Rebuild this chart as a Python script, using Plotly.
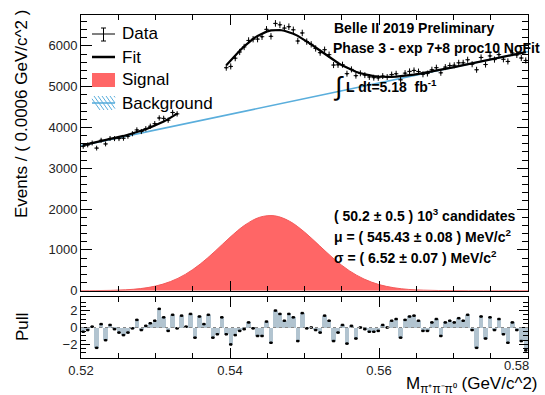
import numpy as np
import plotly.graph_objects as go

# ---------------- data ----------------
bin_lo, bin_w, n_bins = 0.52, 0.0006, 100
centers = bin_lo + bin_w * (np.arange(n_bins) + 0.5)
left_idx = list(range(0, 22))
right_idx = list(range(32, 100))

data_left = [3538, 3573, 3621, 3495, 3687, 3597, 3731, 3727, 3728, 3737, 3785,
             3847, 3941, 3901, 3971, 4031, 4094, 4233, 4223, 4179, 4368, 4334]
data_right = [5465, 5497, 5699, 5851, 5973, 6133, 6164, 6166, 6225, 6405, 6234,
              6551, 6517, 6436, 6470, 6394, 6120, 6317, 6105, 6038, 5937, 5834,
              5907, 5785, 5530, 5536, 5539, 5319, 5424, 5270, 5328, 5283, 5238,
              5221, 5216, 5260, 5237, 5297, 5317, 5168, 5332, 5375, 5398, 5371,
              5303, 5322, 5416, 5466, 5340, 5480, 5518, 5525, 5585, 5585, 5660,
              5550, 5415, 5716, 5543, 5754, 5664, 5786, 5672, 5619, 5825, 5779,
              5703, 5643]

fit_left = [3568, 3591, 3615, 3639, 3663, 3688, 3713, 3739, 3765, 3793, 3822,
            3853, 3885, 3920, 3958, 3999, 4043, 4092, 4146, 4205, 4270, 4341]
fit_right = [5524, 5647, 5767, 5882, 5988, 6086, 6172, 6245, 6304, 6349, 6378,
             6391, 6389, 6372, 6342, 6299, 6246, 6183, 6113, 6038, 5960, 5880,
             5801, 5724, 5650, 5581, 5517, 5460, 5409, 5365, 5328, 5298, 5274,
             5257, 5245, 5238, 5237, 5239, 5245, 5254, 5266, 5280, 5296, 5313,
             5332, 5351, 5372, 5393, 5414, 5436, 5459, 5481, 5504, 5526, 5549,
             5572, 5595, 5618, 5641, 5664, 5687, 5710, 5733, 5756, 5779, 5802,
             5825, 5848]

sig_x = list(np.round(np.linspace(0.52, 0.58, 31), 4))
sig_y = [1, 3, 8, 22, 52, 113, 223, 400, 652, 968, 1308, 1609, 1801, 1835, 1702,
         1437, 1105, 772, 491, 285, 150, 72, 31, 13, 5, 2, 1, 0, 0, 0, 0]

bkg_x = [0.52, 0.58]
bkg_y = [3555, 5860]

pull = [-0.5, -0.3, 0.1, -2.4, 0.4, -1.5, 0.3, -0.2, -0.6, -0.9,
        -0.6, -0.1, 0.9, -0.3, 0.2, 0.5, 0.8, 2.2, 1.2, -0.4,
        1.5, -0.1, 1.4, 0.1, 1.6, -1.2, 1.3, 0.4, 1.5, -1.2,
        -0.8, 1.2, -0.8, -2.0, -0.9, -0.4, -0.2, 0.6, -0.1, -1.0,
        -1.0, 0.7, -1.8, 2.0, 1.6, 0.8, 1.6, 1.2, -1.6, 1.7,
        -0.1, 0.0, -0.3, -0.6, 1.4, 0.8, -1.6, -0.6, 0.3, -1.9,
        0.2, -1.3, 0.0, -0.2, -0.5, -0.5, -0.4, 0.3, 0.0, 0.8,
        1.0, -1.2, 0.9, 1.3, 1.4, 0.8, -0.4, -0.4, 0.6, 1.0,
        -1.0, 0.6, 0.8, 0.6, 1.1, 0.8, 1.5, -0.3, -2.4, 1.3,
        -1.3, 1.2, -0.3, 1.0, -0.8, -1.8, 0.6, -0.3, -1.6, -2.7]

x_ticks = [0.52, 0.54, 0.56, 0.58]
x_tick_text = ["0.52", "0.54", "0.56", ""]
last_x_label = "0.58"
y_ticks = [0, 1000, 2000, 3000, 4000, 5000, 6000]
pull_ticks = [-2, 0, 2]

# ---------------- geometry ----------------
W, H = 545, 395
PL, PR, PT, PB = 81, 528, 15, 358          # plot area in window pixels
ML, MT, MR, MB = PL, PT, W - PR, H - PB
PW, PH = PR - PL, PB - PT
def px(x):
    return (x - PL) / PW
def py(y):
    return (PB - y) / PH

FONT = "Liberation Sans, Arial, Helvetica, sans-serif"
RED = "#FF6666"
BLUE = "#5AAEDC"

fig = go.Figure()

# signal
fig.add_trace(go.Scatter(x=sig_x, y=sig_y, mode="lines", line=dict(color="#F25A5A", width=1, shape="spline"),
                         fill="tozeroy", fillcolor=RED, showlegend=False, hoverinfo="skip"))
# background
fig.add_trace(go.Scatter(x=bkg_x, y=bkg_y, mode="lines", line=dict(color=BLUE, width=1.6),
                         showlegend=False))
# fit (two ranges)
fit_x = [centers[i] for i in left_idx] + [None] + [centers[i] for i in right_idx]
fit_y = fit_left + [None] + fit_right
fig.add_trace(go.Scatter(x=fit_x, y=fit_y, mode="lines", line=dict(color="black", width=2.2),
                         connectgaps=False, showlegend=False))
# data
dx = [centers[i] for i in left_idx] + [centers[i] for i in right_idx]
dy = data_left + data_right
fig.add_trace(go.Scatter(x=dx, y=dy, mode="markers", marker=dict(size=2, color="black"),
                         error_x=dict(type="constant", value=bin_w / 2, width=0, thickness=1, color="black"),
                         error_y=dict(type="data", array=list(np.sqrt(dy)), width=0, thickness=1, color="black"),
                         showlegend=False))

# pull panel
fig.add_trace(go.Bar(x=centers, y=pull, width=bin_w, marker=dict(color="#B2C4D0", line=dict(width=0)),
                     xaxis="x2", yaxis="y2", showlegend=False))
fig.add_trace(go.Scatter(x=centers, y=pull, mode="markers", marker=dict(symbol="square", size=2.5, color="black"),
                         error_x=dict(type="constant", value=bin_w * 0.4, width=0, thickness=1.5, color="black"),
                         xaxis="x2", yaxis="y2", showlegend=False))

main_bottom = py(290.7)
pull_top = py(297)

axis_common = dict(showline=True, linecolor="black", linewidth=1, mirror="ticks", ticks="inside",
                   showgrid=False, zeroline=False, tickcolor="black",
                   tickfont=dict(family=FONT, size=13, color="#222"))

fig.update_layout(
    width=W, height=H, margin=dict(l=ML, r=MR, t=MT, b=MB, autoexpand=False),
    paper_bgcolor="white", plot_bgcolor="white", bargap=0, showlegend=False,
    xaxis=dict(axis_common, domain=[0, 1], anchor="y", range=[0.52, 0.58], tickvals=x_ticks,
               showticklabels=False, ticklen=10,
               minor=dict(dtick=0.005, tick0=0.52, ticklen=5, ticks="inside", tickcolor="black")),
    yaxis=dict(axis_common, domain=[main_bottom, 1], anchor="x", range=[0, 6757], tickvals=y_ticks,
               ticklen=11, minor=dict(dtick=200, tick0=0, ticklen=6, ticks="inside", tickcolor="black")),
    xaxis2=dict(axis_common, domain=[0, 1], anchor="y2", range=[0.52, 0.58], tickvals=x_ticks,
                ticktext=x_tick_text, ticklen=10,
                minor=dict(dtick=0.005, tick0=0.52, ticklen=5, ticks="inside", tickcolor="black")),
    yaxis2=dict(axis_common, domain=[0, pull_top], anchor="x2", range=[-3.6, 3.6], tickvals=pull_ticks,
                ticktext=["\u22122", "0", "2"], ticklen=9,
                minor=dict(dtick=0.5, tick0=0, ticklen=5, ticks="inside", tickcolor="black")),
)

# zero line in pull
fig.add_shape(type="line", xref="x2", yref="y2", x0=0.52, x1=0.58, y0=0, y1=0,
              line=dict(color="#888", width=1.2, dash="dot"))

# ---------------- manual legend ----------------
shapes = []
def seg(x0, y0, x1, y1, color="black", width=1):
    shapes.append(dict(type="line", xref="paper", yref="paper", x0=px(x0), y0=py(y0), x1=px(x1), y1=py(y1),
                       line=dict(color=color, width=width)))
# Data symbol
seg(92, 34, 115, 34)
seg(103.5, 28, 103.5, 41)
seg(101, 28, 106, 28)
seg(101, 41, 106, 41)
# Fit
seg(92, 57, 115, 57, width=2.5)
# Signal box
shapes.append(dict(type="rect", xref="paper", yref="paper", x0=px(92), x1=px(115), y0=py(87), y1=py(73),
                   fillcolor=RED, line=dict(width=0)))
# Background hatched box
for k in range(7):
    xs = 90 + 4 * k
    x0, y0, x1, y1 = xs, 96, xs + 10, 110
    if x0 < 92:
        y0 = y0 + (92 - x0) * 14 / 10
        x0 = 92
    if x1 > 115:
        y1 = y1 - (x1 - 115) * 14 / 10
        x1 = 115
    if x1 > x0:
        seg(x0, y0, x1, y1, color=BLUE, width=1)
seg(92, 103, 115, 103, color=BLUE, width=1.6)
for s in shapes:
    fig.add_shape(s)

def txt(x, y, s, size=14, bold=False, anchor="left", angle=0, color="black"):
    fig.add_annotation(xref="paper", yref="paper", x=px(x), y=py(y), text=("<b>%s</b>" % s) if bold else s,
                       showarrow=False, xanchor=anchor, yanchor="middle", textangle=angle,
                       font=dict(family=FONT, size=size, color=color))

txt(120, 34, "Data", 17)
txt(120, 57, "Fit", 17)
txt(120, 80, "Signal", 17)
txt(120, 103, "Background", 17)

txt(332, 28, "Belle II 2019 Preliminary", 14, bold=True)
txt(331, 48, "Phase 3 - exp 7+8 proc10 NoFit", 14, bold=True)
txt(331, 86, "\u222b", 26)
txt(344, 86, "L dt=5.18  fb<sup>-1</sup>", 14, bold=True)

txt(332, 215, "( 50.2 \u00b1 0.5 ) 10<sup>3</sup> candidates", 14, bold=True)
txt(332, 236, "\u03bc = ( 545.43 \u00b1 0.08 ) MeV/c<sup>2</sup>", 14, bold=True)
txt(332, 257, "\u03c3 = ( 6.52 \u00b1 0.07 ) MeV/c<sup>2</sup>", 14, bold=True)

# last x tick label, pulled inside the page like the original
txt(531, 366, last_x_label, 13, anchor="right", color="#222")

# axis titles
txt(22, 114, "Events / ( 0.0006 GeV/c^2 )", 17, anchor="center", angle=-90)
txt(22, 327, "Pull", 17, anchor="center", angle=-90)
txt(540, 385, "M<sub>\u03c0\u207a\u03c0\u207b\u03c0\u2070</sub> (GeV/c^2)", 17, anchor="right")

fig.write_html("out.html", config={"displayModeBar": False},
               post_script="document.body.style.margin='0';document.body.style.overflow='hidden';")
